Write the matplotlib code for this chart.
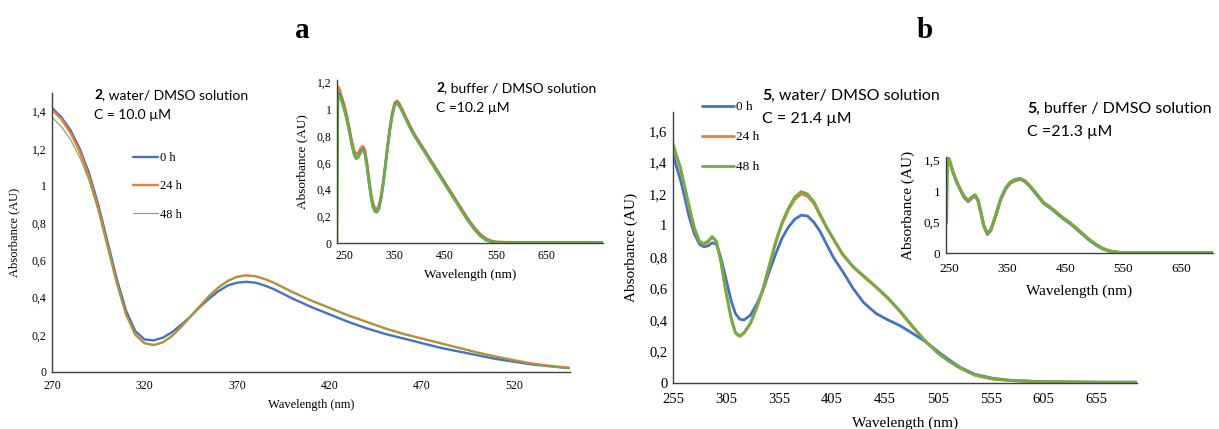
import matplotlib
matplotlib.use("Agg")
import matplotlib.pyplot as plt
from matplotlib.ticker import FuncFormatter

# ---- data: panel a, main (2, water / DMSO) ----
wl_a = [270, 275, 280, 285, 290, 295, 300, 305, 310, 315, 320, 325, 330, 335, 340,
        345, 350, 355, 360, 365, 370, 375, 380, 385, 390, 395, 400, 410, 420, 430,
        440, 450, 460, 470, 480, 490, 500, 510, 520, 530, 540, 550]
a_0h = [1.42, 1.37, 1.30, 1.20, 1.07, 0.90, 0.70, 0.50, 0.33, 0.22, 0.175, 0.17, 0.185, 0.215, 0.255,
        0.30, 0.35, 0.395, 0.435, 0.465, 0.48, 0.485, 0.48, 0.465, 0.445, 0.42, 0.395, 0.35, 0.31, 0.27,
        0.235, 0.205, 0.18, 0.155, 0.13, 0.11, 0.09, 0.07, 0.055, 0.04, 0.03, 0.02]
a_24h = [1.41, 1.36, 1.285, 1.185, 1.05, 0.88, 0.68, 0.48, 0.31, 0.20, 0.155, 0.145, 0.16, 0.195, 0.245,
         0.30, 0.355, 0.41, 0.455, 0.49, 0.512, 0.52, 0.515, 0.50, 0.48, 0.455, 0.43, 0.385, 0.345, 0.305,
         0.27, 0.235, 0.205, 0.18, 0.155, 0.13, 0.105, 0.083, 0.063, 0.045, 0.032, 0.022]
a_48h = [1.37, 1.32, 1.25, 1.155, 1.03, 0.865, 0.67, 0.475, 0.31, 0.20, 0.153, 0.143, 0.158, 0.193, 0.243,
         0.298, 0.353, 0.408, 0.453, 0.488, 0.51, 0.518, 0.513, 0.498, 0.478, 0.453, 0.428, 0.383, 0.343, 0.303,
         0.268, 0.233, 0.203, 0.178, 0.153, 0.128, 0.103, 0.081, 0.061, 0.043, 0.030, 0.020]

# ---- panel a, inset (2, buffer / DMSO) ----
wl_ai = [236, 238, 241, 245, 250, 255, 260, 265, 270, 274, 278, 283, 287, 291, 295, 299, 303, 307,
         311, 315, 319, 323, 327, 331, 335, 340, 345, 350, 355, 360, 370, 380, 390, 400, 410, 420,
         430, 440, 450, 460, 470, 480, 490, 500, 510, 520, 530, 540, 550, 570, 600, 650, 700, 762]
ai_24h = [1.12, 1.17, 1.15, 1.10, 1.04, 0.96, 0.87, 0.77, 0.69, 0.665, 0.675, 0.71, 0.725, 0.70, 0.61, 0.49, 0.38, 0.30,
          0.26, 0.255, 0.28, 0.35, 0.45, 0.57, 0.70, 0.85, 0.97, 1.05, 1.065, 1.04, 0.96, 0.88, 0.81, 0.75, 0.69, 0.63,
          0.57, 0.51, 0.45, 0.39, 0.33, 0.27, 0.21, 0.155, 0.105, 0.065, 0.035, 0.018, 0.01, 0.006, 0.005, 0.004, 0.004, 0.004]
ai_0h = [1.09, 1.12, 1.11, 1.07, 1.01, 0.935, 0.845, 0.745, 0.665, 0.635, 0.645, 0.685, 0.70, 0.675, 0.585, 0.465, 0.355, 0.275,
         0.24, 0.235, 0.26, 0.335, 0.435, 0.555, 0.685, 0.835, 0.955, 1.035, 1.05, 1.025, 0.95, 0.87, 0.80, 0.74, 0.68, 0.62,
         0.56, 0.50, 0.44, 0.38, 0.32, 0.26, 0.20, 0.145, 0.095, 0.055, 0.025, 0.012, 0.006, 0.003, 0.002, 0.002, 0.002, 0.002]
ai_48h = [0.0, 1.10, 1.10, 1.06, 1.00, 0.93, 0.84, 0.74, 0.66, 0.63, 0.64, 0.68, 0.695, 0.67, 0.58, 0.46, 0.35, 0.27,
          0.235, 0.23, 0.255, 0.33, 0.43, 0.55, 0.68, 0.83, 0.95, 1.03, 1.045, 1.02, 0.945, 0.865, 0.795, 0.735, 0.675, 0.615,
          0.555, 0.495, 0.435, 0.375, 0.315, 0.255, 0.195, 0.14, 0.09, 0.05, 0.022, 0.01, 0.005, 0.003, 0.002, 0.002, 0.002, 0.002]

# ---- panel b, main (5, water / DMSO) ----
wl_b = [255, 258, 262, 266, 270, 275, 280, 284, 288, 292, 296, 300, 305, 310, 314, 318, 322, 328,
        334, 340, 346, 352, 358, 364, 370, 376, 382, 388, 394, 400, 407, 415, 425, 435, 447, 458,
        469, 480, 494, 505, 515, 526, 540, 557, 575, 605, 655, 693]
b_0h = [1.45, 1.38, 1.29, 1.18, 1.06, 0.95, 0.88, 0.865, 0.87, 0.89, 0.88, 0.80, 0.66, 0.52, 0.44, 0.405, 0.40, 0.43,
        0.50, 0.59, 0.71, 0.82, 0.92, 0.99, 1.04, 1.065, 1.06, 1.02, 0.96, 0.88, 0.79, 0.71, 0.60, 0.51, 0.44, 0.40,
        0.365, 0.32, 0.26, 0.20, 0.15, 0.10, 0.055, 0.03, 0.016, 0.008, 0.005, 0.005]
b_24h = [1.51, 1.44, 1.36, 1.24, 1.12, 0.98, 0.895, 0.88, 0.895, 0.925, 0.895, 0.775, 0.575, 0.405, 0.315, 0.295, 0.315, 0.375,
         0.475, 0.595, 0.745, 0.89, 1.01, 1.10, 1.165, 1.20, 1.185, 1.14, 1.06, 0.985, 0.905, 0.815, 0.735, 0.675, 0.605, 0.535,
         0.455, 0.365, 0.26, 0.19, 0.14, 0.095, 0.05, 0.025, 0.015, 0.008, 0.005, 0.005]
b_48h = [1.52, 1.45, 1.37, 1.25, 1.13, 0.99, 0.90, 0.885, 0.90, 0.93, 0.90, 0.78, 0.58, 0.41, 0.32, 0.30, 0.32, 0.38,
         0.48, 0.60, 0.75, 0.90, 1.02, 1.11, 1.18, 1.215, 1.20, 1.15, 1.07, 0.99, 0.91, 0.82, 0.74, 0.68, 0.61, 0.54,
         0.46, 0.37, 0.26, 0.19, 0.14, 0.095, 0.05, 0.025, 0.015, 0.008, 0.005, 0.005]

# ---- panel b, inset (5, buffer / DMSO) ----
wl_bi = [246, 248, 251, 256, 262, 270, 276, 283, 289, 295, 300, 305, 310, 316, 322, 330, 339, 348, 356, 364,
         373, 381, 390, 400, 413, 424, 436, 447, 459, 470, 481, 492, 504, 515, 527, 544, 560, 600, 650, 704]
bi_0h = [1.50, 1.55, 1.49, 1.33, 1.17, 1.01, 0.90, 0.83, 0.88, 0.92, 0.84, 0.64, 0.43, 0.30, 0.36, 0.58, 0.86, 1.04, 1.13, 1.17,
         1.19, 1.15, 1.065, 0.95, 0.80, 0.73, 0.635, 0.55, 0.47, 0.38, 0.29, 0.20, 0.12, 0.065, 0.027, 0.007, 0.004, 0.003, 0.003, 0.003]
bi_24h = [1.52, 1.56, 1.50, 1.34, 1.18, 1.02, 0.915, 0.845, 0.895, 0.935, 0.855, 0.655, 0.445, 0.315, 0.375, 0.595, 0.875, 1.055, 1.145, 1.185,
          1.205, 1.165, 1.08, 0.965, 0.815, 0.745, 0.65, 0.565, 0.485, 0.395, 0.305, 0.215, 0.135, 0.075, 0.035, 0.01, 0.005, 0.004, 0.004, 0.004]
bi_48h = [0.48, 1.56, 1.50, 1.34, 1.18, 1.02, 0.92, 0.85, 0.90, 0.94, 0.86, 0.66, 0.45, 0.32, 0.38, 0.60, 0.88, 1.06, 1.15, 1.19,
          1.20, 1.16, 1.075, 0.96, 0.81, 0.74, 0.645, 0.56, 0.48, 0.39, 0.30, 0.21, 0.13, 0.07, 0.03, 0.008, 0.004, 0.003, 0.003, 0.003]

labels = ["0 h", "24 h", "48 h"]
captions = [
    ("2", ", water/ DMSO solution", "C = 10.0 µM"),
    ("2", ", buffer / DMSO solution", "C =10.2 µM"),
    ("5", ", water/ DMSO solution", "C = 21.4 µM"),
    ("5", ", buffer / DMSO solution", "C =21.3 µM"),
]

BLUE, ORANGE, GREEN = "#4472C4", "#ED7D31", "#70AD47"
SERIF = "Liberation Serif"
SANS = "Lato"

W, H = 1219, 429
fig = plt.figure(figsize=(W / 100, H / 100), dpi=100)


def px_rect(x0, y0, x1, y1):
    # pixel box (top-left origin) -> figure fraction rect
    return [x0 / W, 1 - y1 / H, (x1 - x0) / W, (y1 - y0) / H]


comma = FuncFormatter(lambda v, p: ("%g" % round(v, 2)).replace(".", ","))


def style(ax, fs, lab_fs, tpad, xpad, ypad):
    for s in ["top", "right"]:
        ax.spines[s].set_visible(False)
    for s in ["left", "bottom"]:
        ax.spines[s].set_color("#404040")
        ax.spines[s].set_linewidth(1.0)
    ax.set_facecolor("none")
    ax.tick_params(length=0, labelsize=fs)
    ax.tick_params(axis="x", pad=tpad)
    ax.tick_params(axis="y", pad=4)
    for t in ax.get_xticklabels() + ax.get_yticklabels():
        t.set_fontfamily(SERIF)
    ax.yaxis.set_major_formatter(comma)
    ax.set_xlabel("Wavelength (nm)", fontsize=lab_fs, family=SERIF, labelpad=xpad)
    ax.set_ylabel("Absorbance (AU)", fontsize=lab_fs, family=SERIF, labelpad=ypad)


kw = dict(solid_joinstyle="round", solid_capstyle="round")

# ---------- panel a main ----------
ax1 = fig.add_axes(px_rect(52, 93, 570, 372))
l0, = ax1.plot(wl_a, a_0h, color=BLUE, lw=1.7, label=labels[0], **kw)
l1, = ax1.plot(wl_a, a_24h, color=ORANGE, lw=1.7, label=labels[1], **kw)
l2, = ax1.plot(wl_a, a_48h, color=GREEN, lw=0.8, label=labels[2], **kw)
ax1.set_xlim(270, 550)
ax1.set_ylim(0, 1.5)
ax1.set_xticks(range(270, 521, 50))
ax1.set_yticks([0, 0.2, 0.4, 0.6, 0.8, 1.0, 1.2, 1.4])
style(ax1, 8.5, 9, 6, 5, 8)
ax1.legend(handles=[l0, l1, l2], loc="upper left", bbox_to_anchor=(133 / W, 1 - 152 / H),
           bbox_transform=fig.transFigure, frameon=False, prop={"family": SERIF, "size": 9},
           handlelength=2.0, handletextpad=0.15, labelspacing=1.3, borderpad=0, borderaxespad=0)

# ---------- panel a inset ----------
ax2 = fig.add_axes(px_rect(337, 80, 603, 243))
ax2.plot(wl_ai, ai_24h, color=ORANGE, lw=1.9, **kw)
ax2.plot(wl_ai, ai_0h, color=BLUE, lw=1.9, **kw)
ax2.plot(wl_ai, ai_48h, color=GREEN, lw=1.9, **kw)
ax2.set_xlim(236, 762)
ax2.set_ylim(0, 1.22)
ax2.set_xticks(range(250, 651, 100))
ax2.set_yticks([0, 0.2, 0.4, 0.6, 0.8, 1.0, 1.2])
style(ax2, 8.5, 9.5, 5, 5, 6)

# ---------- panel b main ----------
ax3 = fig.add_axes(px_rect(673, 112, 1137, 383))
m0, = ax3.plot(wl_b, b_0h, color=BLUE, lw=2.0, label=labels[0], **kw)
m1, = ax3.plot(wl_b, b_24h, color=ORANGE, lw=2.0, label=labels[1], **kw)
m2, = ax3.plot(wl_b, b_48h, color=GREEN, lw=2.0, label=labels[2], **kw)
ax3.set_xlim(255, 693)
ax3.set_ylim(0, 1.72)
ax3.set_xticks(range(255, 656, 50))
ax3.set_yticks([0, 0.2, 0.4, 0.6, 0.8, 1.0, 1.2, 1.4, 1.6])
style(ax3, 10.5, 11, 7, 8, 8)
ax3.legend(handles=[m0, m1, m2], loc="upper left", bbox_to_anchor=(702 / W, 1 - 101 / H),
           bbox_transform=fig.transFigure, frameon=False, prop={"family": SERIF, "size": 9.5},
           handlelength=2.4, handletextpad=0.15, labelspacing=1.35, borderpad=0, borderaxespad=0)

# ---------- panel b inset ----------
ax4 = fig.add_axes(px_rect(946, 157, 1213, 253))
ax4.plot(wl_bi, bi_0h, color=BLUE, lw=2.1, **kw)
ax4.plot(wl_bi, bi_24h, color=ORANGE, lw=2.1, **kw)
ax4.plot(wl_bi, bi_48h, color=GREEN, lw=2.1, **kw)
ax4.set_xlim(245, 704)
ax4.set_ylim(0, 1.55)
ax4.set_xticks(range(250, 651, 100))
ax4.set_yticks([0, 0.5, 1.0, 1.5])
style(ax4, 9.5, 11, 7, 7, 6)

# ---------- captions (bold compound number + rest, concentration below) ----------
cap_pos = [(94, 99, 10), (436, 92, 10), (762, 100, 11.5), (1027, 113, 11.5)]
for (num, rest, conc), (x, y, fs) in zip(captions, cap_pos):
    t = fig.text(x / W, 1 - y / H, num, fontsize=fs, family=SANS, weight="bold", va="baseline")
    ax1.annotate(rest, xy=(1, 0), xycoords=t, fontsize=fs, family=SANS, va="bottom", ha="left",
                 annotation_clip=False)
    fig.text(x / W, 1 - (y + 2 * fs) / H, conc, fontsize=fs, family=SANS, va="baseline")

fig.text(302 / W, 1 - 31 / H, "a", fontsize=21, family=SERIF, weight="bold", ha="center", va="center")
fig.text(925 / W, 1 - 31 / H, "b", fontsize=21, family=SERIF, weight="bold", ha="center", va="center")

fig.savefig("out.png", dpi=100)
